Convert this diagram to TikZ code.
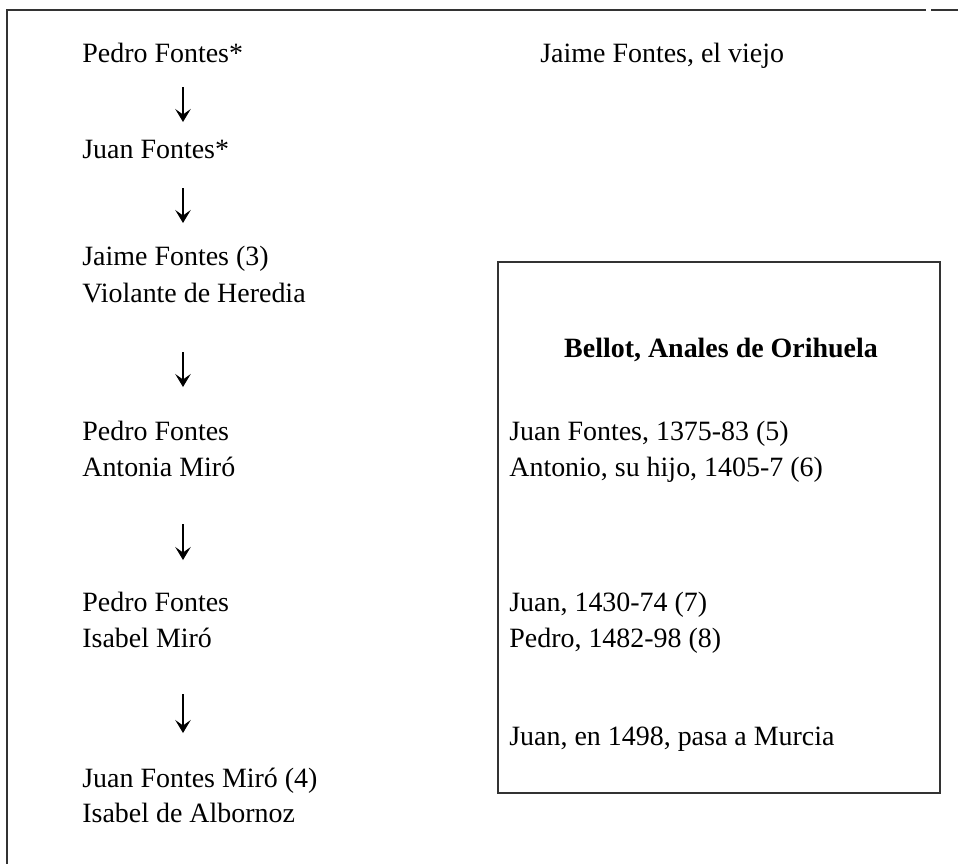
\documentclass[tikz,border=0pt]{standalone}
\usepackage{fontspec}
\setmainfont{Liberation Serif}
\usetikzlibrary{arrows.meta}

\tikzset{
  person/.style={anchor=base west, inner sep=0pt, font=\fontsize{15.9}{20.5}\selectfont},
  annal/.style={person},
  annaltitle/.style={anchor=base, inner sep=0pt, font=\fontsize{15.9}{20.5}\selectfont\bfseries},
  descent/.style={-{Stealth[length=2.6mm,width=3.1mm,inset=1.1mm]}, line width=0.6pt},
  rule/.style={line width=0.3mm, black!80}
}

\begin{document}
\begin{tikzpicture}[x=0.2mm, y=-0.2mm]
			%%%%% START %%%%%
			\useasboundingbox (0, 0) rectangle (958, 864);
			
			% page rules
			\draw[rule] (6, 10) -- (926, 10);
			\draw[rule] (931, 10) -- (958, 10);
			\draw[rule] (7, 10) -- (7, 864);
			
			\coordinate (axis) at (183, 0);
			
			% left column
			\node[person] (gen1) at (82, 62) {Pedro Fontes*};
			\node[person] (gen2) at (82, 158) {Juan Fontes*};
			\node[person] (gen3) at (82, 265) {Jaime Fontes (3)};
			\node[person] (wife3) at (82, 302) {Violante de Heredia};
			\node[person] (gen4) at (82, 440) {Pedro Fontes};
			\node[person] (wife4) at (82, 476) {Antonia Miró};
			\node[person] (gen5) at (82, 611) {Pedro Fontes};
			\node[person] (wife5) at (82, 647) {Isabel Miró};
			\node[person] (gen6) at (82, 787) {Juan Fontes Miró (4)};
			\node[person] (wife6) at (82, 822) {Isabel de Albornoz};
			
			\draw[descent, shorten <=5mm, shorten >=7.2mm] (gen1.base -| axis) -- (gen2.base -| axis);
			\draw[descent, shorten <=6mm, shorten >=8.4mm] (gen2.base -| axis) -- (gen3.base -| axis);
			\draw[descent, shorten <=10mm, shorten >=10.6mm] (wife3.base -| axis) -- (gen4.base -| axis);
			\draw[descent, shorten <=9.6mm, shorten >=10.2mm] (wife4.base -| axis) -- (gen5.base -| axis);
			\draw[descent, shorten <=9.4mm, shorten >=10.8mm] (wife5.base -| axis) -- (gen6.base -| axis);
			
			% right column
			\node[person] (elder) at (540, 62) {Jaime Fontes, el viejo};
			
			\draw[rule] (498, 262) rectangle (940, 793);
			\node[annaltitle] (bellot) at (721, 357) {Bellot, Anales de Orihuela};
			\node[annal] (juan1) at (509, 440) {Juan Fontes, 1375-83 (5)};
			\node[annal] (antonio) at (509, 476) {Antonio, su hijo, 1405-7 (6)};
			\node[annal] (juan2) at (509, 611) {Juan, 1430-74 (7)};
			\node[annal] (pedro) at (509, 647) {Pedro, 1482-98 (8)};
			\node[annal] (juan3) at (509, 745) {Juan, en 1498, pasa a Murcia};
			
			%%%%% END %%%%%
\end{tikzpicture}
\end{document}
